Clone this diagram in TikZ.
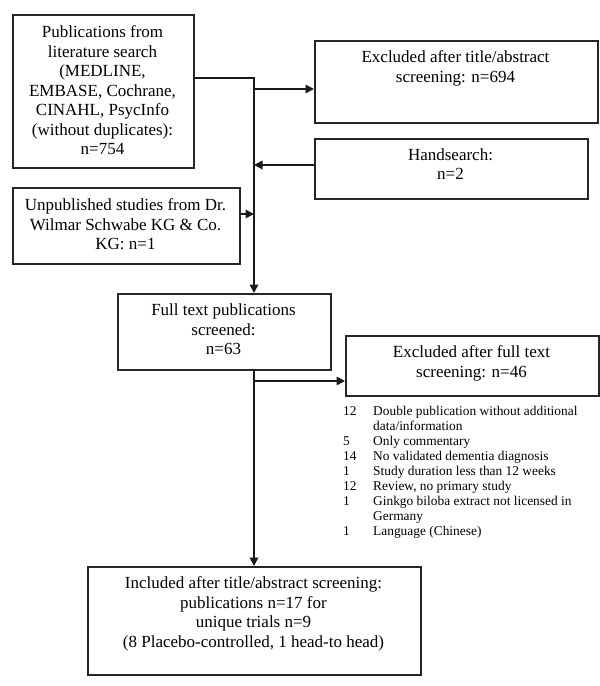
\documentclass[tikz,border=0pt]{standalone}
\usepackage{fontspec}
\setmainfont{Liberation Serif}
\usetikzlibrary{arrows.meta}
\begin{document}
\begin{tikzpicture}[x=1pt,y=-1pt,
  box/.style={draw=black!85, line width=1.6pt, rectangle, inner sep=0pt, anchor=north west},
  txt/.style={anchor=north, align=center, inner sep=0pt, font=\fontsize{17}{19.5}\selectfont},
  conn/.style={line width=1.7pt, draw=black!90},
  arr/.style={conn, -{Triangle[length=8.5pt,width=8.5pt]}}]
\useasboundingbox (0,0) rectangle (600,686);
\fill[white] (0,0) rectangle (600,686);

% boxes
\node[box, minimum width=181, minimum height=153] (A) at (12,14) {};
\node[txt] (At) at (102.5,25.5) {Publications from\\literature search\\(MEDLINE,\\EMBASE, Cochrane,\\CINAHL, PsycInfo\\(without duplicates):\\n=754};

\node[box, minimum width=283, minimum height=82] (E1) at (314,40) {};
\node[txt] (E1t) at (455.5,50.5) {Excluded after title/abstract\\screening: n=694};

\node[box, minimum width=273, minimum height=60] (H) at (314,138) {};
\node[txt] (Ht) at (450.5,148.5) {Handsearch:\\n=2};

\node[box, minimum width=227, minimum height=76] (U) at (12,187) {};
\node[txt] (Ut) at (125.5,198.5) {Unpublished studies from Dr.\\Wilmar Schwabe KG \& Co.\\KG: n=1};

\node[box, minimum width=213, minimum height=76] (F) at (117,293) {};
\node[txt] (Ft) at (223.5,303.5) {Full text publications\\screened:\\n=63};

\node[box, minimum width=253, minimum height=60] (E2) at (345,335) {};
\node[txt] (E2t) at (471.5,345.5) {Excluded after full text\\screening: n=46};

\node[anchor=north west, inner sep=0pt, font=\fontsize{13.4}{15}\selectfont] (L) at (343,404.5) {%
\begin{tabular}{@{}p{30pt}@{}l@{}}
12 & Double publication without additional\\
   & data/information\\
5  & Only commentary\\
14 & No validated dementia diagnosis\\
1  & Study duration less than 12 weeks\\
12 & Review, no primary study\\
1  & Ginkgo biloba extract not licensed in\\
   & Germany\\
1  & Language (Chinese)
\end{tabular}};

\node[box, minimum width=333, minimum height=108] (I) at (87,566) {};
\node[txt] (It) at (253.5,576.5) {Included after title/abstract screening:\\publications n=17 for\\unique trials n=9\\(8 Placebo-controlled, 1 head-to head)};

% junction coordinates
\coordinate (jA) at (254,78);
\coordinate (jE1) at (254,89);
\coordinate (jH) at (254,165);
\coordinate (jU) at (254,214);
\coordinate (jE2) at (254,381);

% connectors
\draw[arr] (A.east |- jA) -- (jA) -- (F.north -| jA);
\draw[arr] (jE1) -- (E1.west |- jE1);
\draw[arr] (H.west |- jH) -- (jH);
\draw[arr] (U.east |- jU) -- (jU);
\draw[arr] (F.south -| jE2) -- (I.north -| jE2);
\draw[arr] (jE2) -- (E2.west |- jE2);
\end{tikzpicture}
\end{document}
